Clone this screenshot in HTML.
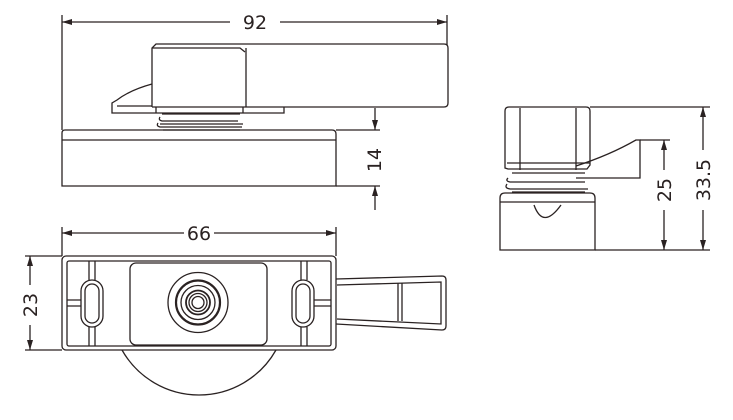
<!DOCTYPE html>
<html><head><meta charset="utf-8"><style>
html,body{margin:0;padding:0;background:#fff;}
svg{display:block;}
text{font-family:"DejaVu Sans","Liberation Sans",sans-serif;font-size:19px;fill:#2a2222;}
</style></head><body>
<svg width="733" height="420" viewBox="0 0 733 420" xmlns="http://www.w3.org/2000/svg">
<defs>
<marker id="a" viewBox="0 0 10 6" refX="10" refY="3" markerWidth="10" markerHeight="6" orient="auto-start-reverse" markerUnits="userSpaceOnUse"><path d="M0,0 L10,3 L0,6 z" fill="#2a2222"/></marker>
</defs>
<g fill="none" stroke="#2a2222" stroke-width="1.3">
<!-- TOP VIEW -->
<line x1="62" y1="15" x2="62" y2="130"/>
<line x1="447" y1="15" x2="447" y2="45"/>
<line x1="62" y1="22" x2="230" y2="22" marker-start="url(#a)"/>
<line x1="280" y1="22" x2="447" y2="22" marker-end="url(#a)"/>
<path d="M152,107 V48 l4,-4 H444 q4,0 4,4 V103 q0,4 -4,4 H152"/>
<path d="M152,48 H240 l5,4"/>
<line x1="246" y1="48" x2="246" y2="107"/>
<path d="M152,84 Q130,90 117,100 L112,103 V113 H284 V107"/>
<line x1="117" y1="106" x2="152" y2="106"/>
<path d="M156,107 V113 M243,107 V113"/>
<path d="M162,114 H240 M160,117 Q158,120 162,121 H238 M158,123 Q156,126 160,127 H242 M163,130 H240 M160,124 H243"/>
<path d="M62,133 q0,-3 3,-3 H332 q4,0 4,4 V186 H62 Z"/>
<line x1="62" y1="140" x2="336" y2="140"/>
<line x1="336" y1="130" x2="380" y2="130"/>
<line x1="336" y1="186" x2="380" y2="186"/>
<line x1="375" y1="108" x2="375" y2="130" marker-end="url(#a)"/>
<line x1="375" y1="210" x2="375" y2="186" marker-end="url(#a)"/>
<!-- BOTTOM VIEW -->
<line x1="62" y1="227" x2="62" y2="256"/>
<line x1="336" y1="227" x2="336" y2="256"/>
<line x1="62" y1="233" x2="184" y2="233" marker-start="url(#a)"/>
<line x1="214" y1="233" x2="336" y2="233" marker-end="url(#a)"/>
<rect x="62" y="256" width="274" height="94" rx="4"/>
<rect x="67" y="261" width="264" height="85" rx="2"/>
<line x1="25" y1="256" x2="62" y2="256"/>
<line x1="25" y1="350" x2="62" y2="350"/>
<line x1="30" y1="285" x2="30" y2="256" marker-end="url(#a)"/>
<line x1="30" y1="325" x2="30" y2="350" marker-end="url(#a)"/>
<rect x="130" y="263" width="137" height="82" rx="6"/>
<circle cx="198" cy="302.5" r="30"/>
<circle cx="198" cy="302.5" r="22" stroke-width="2.2"/>
<circle cx="198" cy="302.5" r="17"/>
<circle cx="198" cy="302.5" r="12" stroke-width="1.8"/>
<circle cx="198" cy="302.5" r="9"/>
<circle cx="198" cy="302.5" r="6"/>
<rect x="81" y="280" width="22" height="47" rx="11"/>
<rect x="85" y="284" width="14" height="39" rx="7"/>
<path d="M89,261 V280 M95,261 V280 M89,327 V346 M95,327 V346 M67,300 H81 M67,306 H81"/>
<rect x="292" y="280" width="22" height="47" rx="11"/>
<rect x="296" y="284" width="14" height="39" rx="7"/>
<path d="M301,261 V280 M307,261 V280 M301,327 V346 M307,327 V346 M314,300 H331 M314,306 H331"/>
<path d="M336,279 L442,276 q4,0 4,4 V326 q0,4 -4,4 L336,324"/>
<path d="M337,285 L441,282 V324 L337,319"/>
<path d="M398,283 V321 M402,283 V321"/>
<path d="M122,350 A88.4,88.4 0 0 0 276,350"/>
<!-- SIDE VIEW -->
<path d="M505,168 V111 q0,-4 4,-4 H586 q4,0 4,4 V165 l-3,4 H508 z"/>
<line x1="520" y1="108" x2="520" y2="170"/>
<line x1="576" y1="108" x2="576" y2="170"/>
<line x1="507" y1="163" x2="590" y2="163"/>
<path d="M576,166 Q610,155 636,140 H640 V178 H576"/>
<path d="M512,173 H585 M508,178 Q505,181 510,182 H585 M507,184 Q504,188 510,189 H588 M512,192 H585"/>
<path d="M500,250 V198 q0,-5 5,-5 H590 q5,0 5,5 V250 Z"/>
<line x1="500" y1="202" x2="595" y2="202"/>
<path d="M534,205 Q543,230 561,205"/>
<line x1="590" y1="107" x2="710" y2="107"/>
<line x1="595" y1="250" x2="710" y2="250"/>
<line x1="640" y1="140" x2="670" y2="140"/>
<line x1="664" y1="170" x2="664" y2="140" marker-end="url(#a)"/>
<line x1="664" y1="210" x2="664" y2="250" marker-end="url(#a)"/>
<line x1="703" y1="150" x2="703" y2="107" marker-end="url(#a)"/>
<line x1="703" y1="210" x2="703" y2="250" marker-end="url(#a)"/>
</g>
<text x="255" y="29" text-anchor="middle">92</text>
<text x="199" y="240" text-anchor="middle">66</text>
<text transform="translate(381,160) rotate(-90)" text-anchor="middle">14</text>
<text transform="translate(37,305) rotate(-90)" text-anchor="middle">23</text>
<text transform="translate(671,190) rotate(-90)" text-anchor="middle">25</text>
<text transform="translate(710,180) rotate(-90)" text-anchor="middle">33.5</text>
</svg>
</body></html>
